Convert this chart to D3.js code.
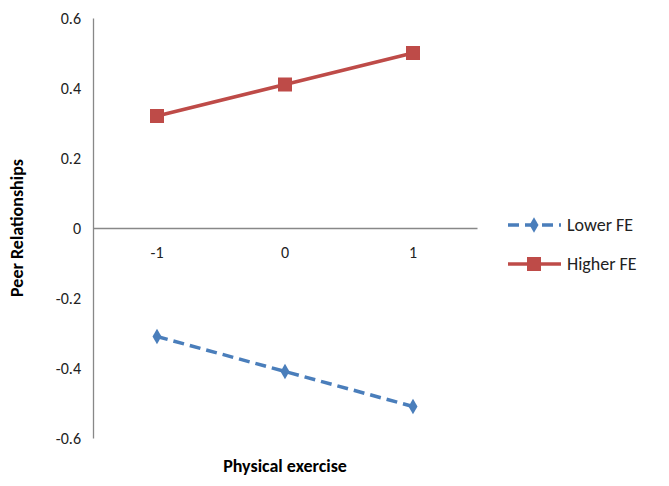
<!DOCTYPE html><html><head><meta charset="utf-8"><script src="https://cdn.jsdelivr.net/npm/d3@7"></script>
<style>body{margin:0;background:#fff}</style></head><body><svg id="c" width="669" height="486"></svg>
<script>
const categories=["-1","0","1"];
const lowerFE=[-0.31,-0.41,-0.51];
const higherFE=[0.32,0.41,0.50];
const yTicks=[-0.6,-0.4,-0.2,0,0.2,0.4,0.6];
const svg=d3.select("#c");
const x=d3.scaleBand().domain(categories).range([93,477]);
const y=d3.scaleLinear().domain([-0.6,0.6]).range([438,18]);
const font="Calibri, Carlito, 'Liberation Sans', Arial, sans-serif";
const gy=svg.append("g").attr("transform","translate(93,0)").call(d3.axisLeft(y).tickValues(yTicks).tickSize(0).tickPadding(12).tickFormat(d=>d===0?"0":d.toFixed(1).replace("\u2212","-")));
gy.select(".domain").attr("stroke","#888").attr("stroke-width",1.3);
gy.selectAll("text").attr("font-size",16).attr("font-family",font).attr("fill","#222");
const gx=svg.append("g").attr("transform",`translate(0,${y(0)})`).call(d3.axisBottom(x).tickSize(0).tickPadding(19));
gx.select(".domain").attr("stroke","#888").attr("stroke-width",1.3);
gx.selectAll("text").attr("font-size",16).attr("font-family",font).attr("fill","#222");
const cx=d=>x(d)+x.bandwidth()/2;
const line=d3.line().x((d,i)=>cx(categories[i])).y(d=>y(d));
svg.append("path").attr("d",line(lowerFE)).attr("fill","none").attr("stroke","#4a7ebb").attr("stroke-width",3.5).attr("stroke-dasharray","11,6");
svg.append("path").attr("d",line(higherFE)).attr("fill","none").attr("stroke","#be4b48").attr("stroke-width",3.5);
const dia=d3.symbol().type(d3.symbolDiamond).size(70);
svg.selectAll(".lo").data(lowerFE).join("path").attr("d",dia).attr("fill","#4a7ebb").attr("transform",(d,i)=>`translate(${cx(categories[i])},${y(d)})`);
svg.selectAll(".hi").data(higherFE).join("rect").attr("x",(d,i)=>cx(categories[i])-7).attr("y",d=>y(d)-7).attr("width",14).attr("height",14).attr("fill","#be4b48");
const lg=[{n:"Lower FE",c:"#4a7ebb",dash:"11,6",y:225},{n:"Higher FE",c:"#be4b48",dash:null,y:264}];
lg.forEach(l=>{
 svg.append("line").attr("x1",508).attr("x2",561).attr("y1",l.y).attr("y2",l.y).attr("stroke",l.c).attr("stroke-width",3.5).attr("stroke-dasharray",l.dash);
 if(l.dash) svg.append("path").attr("d",dia).attr("fill",l.c).attr("transform",`translate(534,${l.y})`);
 else svg.append("rect").attr("x",527).attr("y",l.y-7).attr("width",14).attr("height",14).attr("fill",l.c);
 svg.append("text").attr("x",567).attr("y",l.y+6).attr("font-size",18).attr("font-family",font).attr("fill","#222").text(l.n);
});
svg.append("text").attr("x",285).attr("y",472).attr("text-anchor","middle").attr("font-size",18).attr("font-weight","bold").attr("font-family",font).text("Physical exercise");
svg.append("text").attr("transform","translate(23,228) rotate(-90)").attr("text-anchor","middle").attr("font-size",18).attr("font-weight","bold").attr("font-family",font).text("Peer Relationships");
</script></body></html>
